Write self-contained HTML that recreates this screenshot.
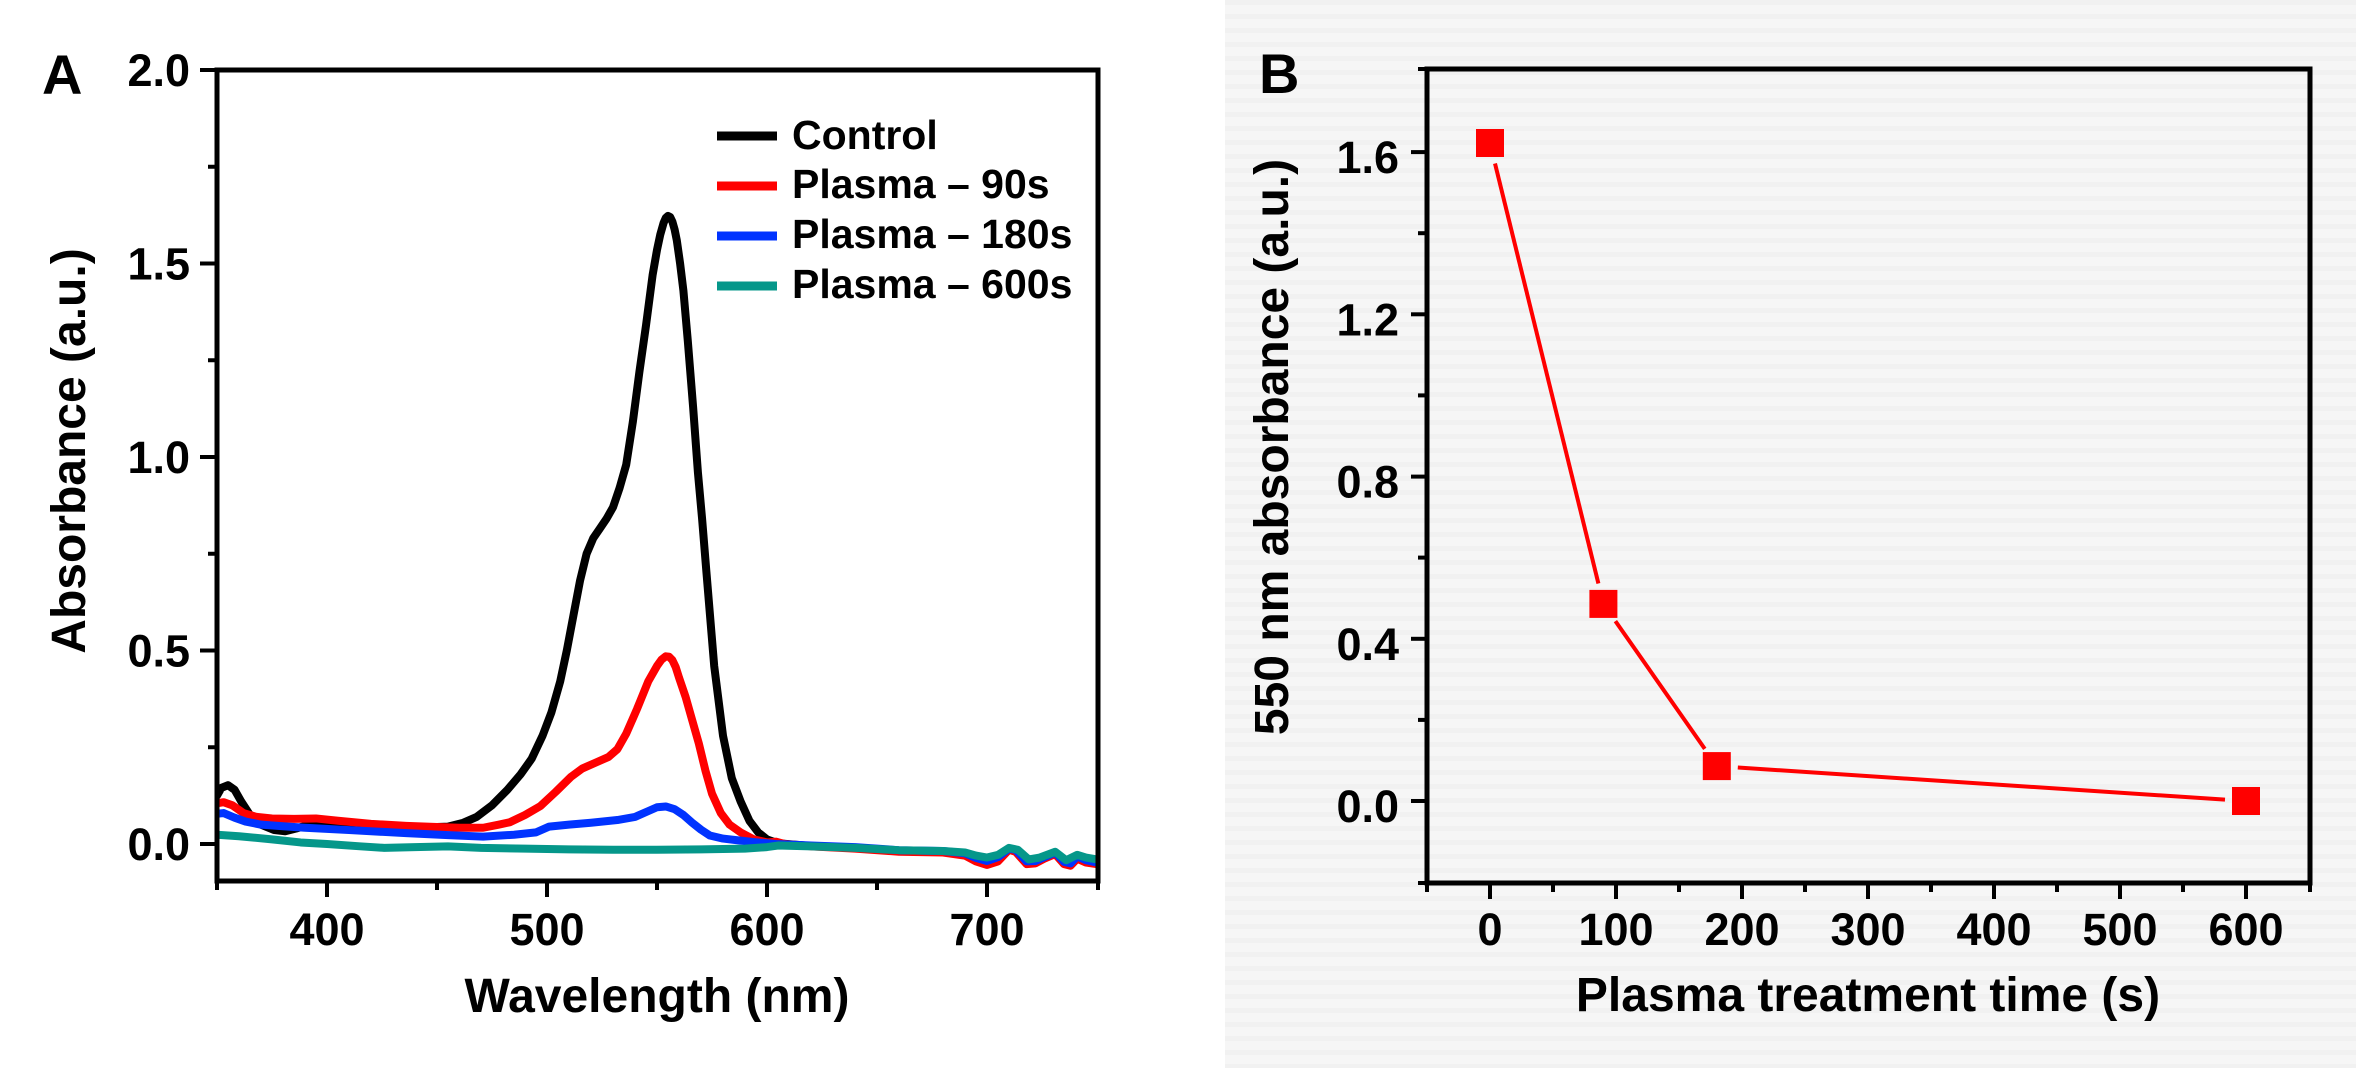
<!DOCTYPE html>
<html>
<head>
<meta charset="utf-8">
<style>
html,body{margin:0;padding:0;background:#fff;}
svg{display:block;}
text{font-family:"Liberation Sans",Arial,sans-serif;font-weight:bold;fill:#000;}
</style>
</head>
<body>
<svg width="2356" height="1068" viewBox="0 0 2356 1068" xmlns="http://www.w3.org/2000/svg">
<defs>
<pattern id="stripes" width="8" height="14" patternUnits="userSpaceOnUse">
<rect width="8" height="14" fill="#f6f6f6"/>
<rect y="0" width="8" height="5" fill="#f1f1f1"/>
</pattern>
<clipPath id="clipA"><rect x="217" y="70" width="881" height="811"/></clipPath>
</defs>
<rect x="0" y="0" width="2356" height="1068" fill="#ffffff"/>
<rect x="1225" y="0" width="1131" height="1068" fill="url(#stripes)"/>

<!-- ================= PANEL A ================= -->
<text x="42" y="94" font-size="56">A</text>

<g clip-path="url(#clipA)">
<g transform="matrix(2.2 0 0 -387 -553 844)" fill="none" stroke-linejoin="round" stroke-linecap="round">
<polyline vector-effect="non-scaling-stroke" stroke="#000000" stroke-width="8" points="
350,0.125 352,0.145 355,0.152 358,0.14 361,0.11 365,0.075 370,0.05 376,0.036 381,0.033 386,0.04 392,0.05 400,0.052 420,0.046 440,0.042 455,0.045 462,0.055 468,0.07 475,0.10 482,0.14 488,0.18 493,0.22 498,0.28 502,0.34 506,0.42 509,0.50 512,0.59 515,0.68 518,0.75 521,0.79 524,0.815 527,0.84 530,0.87 533,0.92 536,0.98 539,1.09 542,1.22 545,1.34 548,1.47 550,1.535 551.5,1.575 553,1.605 554,1.618 555,1.623 556,1.62 557,1.608 558,1.588 559,1.56 560.5,1.50 562,1.43 564,1.30 566.4,1.13 568.6,0.96 570.5,0.84 572.5,0.70 576,0.46 580,0.28 584,0.17 588,0.11 592,0.06 596,0.03 600,0.012 605,0.002 620,-0.005 640,-0.01 660,-0.018 680,-0.02 690,-0.025 695,-0.038 700,-0.048 705,-0.038 710,-0.012 713,-0.015 718,-0.048 722,-0.047 726,-0.035 731,-0.022 735,-0.048 738,-0.052 741,-0.033 745,-0.042 750,-0.048"/>
<polyline vector-effect="non-scaling-stroke" stroke="#ff0000" stroke-width="8" points="
350,0.105 353,0.108 357,0.1 362,0.08 368,0.07 375,0.066 385,0.065 395,0.066 405,0.06 420,0.052 436,0.047 450,0.044 460,0.042 471,0.042 478,0.05 483,0.056 490,0.075 497,0.098 504,0.135 511,0.174 516,0.195 522,0.21 528,0.225 532,0.245 536,0.285 541,0.35 546,0.42 550,0.46 552,0.476 554,0.485 555.5,0.484 557,0.475 558.5,0.457 560,0.43 563,0.38 566,0.32 569,0.26 572,0.19 575,0.13 579,0.08 583,0.05 588,0.03 594,0.012 600,0.004 604,0.006 608,0.0 620,-0.006 640,-0.012 660,-0.02 680,-0.022 690,-0.03 695,-0.045 700,-0.054 705,-0.045 710,-0.015 713,-0.02 718,-0.052 722,-0.05 726,-0.038 731,-0.026 735,-0.052 738,-0.056 741,-0.038 745,-0.048 750,-0.052"/>
<polyline vector-effect="non-scaling-stroke" stroke="#0033ff" stroke-width="8" points="
350,0.078 353,0.08 358,0.068 363,0.058 370,0.05 380,0.046 390,0.042 410,0.036 436,0.028 455,0.023 471,0.019 485,0.024 495,0.03 501,0.045 510,0.05 520,0.055 532,0.062 540,0.07 546,0.085 550,0.095 554,0.097 558,0.09 562,0.075 566,0.055 570,0.037 574,0.022 580,0.014 586,0.01 594,0.005 604,0.0 620,-0.004 640,-0.008 660,-0.016 680,-0.018 690,-0.024 695,-0.036 700,-0.044 705,-0.034 710,-0.012 713,-0.015 718,-0.045 722,-0.044 726,-0.034 731,-0.022 735,-0.046 738,-0.05 741,-0.032 745,-0.042 750,-0.048"/>
<polyline vector-effect="non-scaling-stroke" stroke="#05978a" stroke-width="8" points="
350,0.024 360,0.02 375,0.012 388,0.004 400,0.0 415,-0.006 426,-0.01 440,-0.008 455,-0.006 470,-0.01 490,-0.012 510,-0.014 530,-0.015 550,-0.015 570,-0.014 590,-0.012 600,-0.008 605,-0.004 620,-0.006 640,-0.01 660,-0.016 680,-0.018 690,-0.022 695,-0.03 700,-0.035 705,-0.028 710,-0.01 714,-0.015 719,-0.04 724,-0.035 731,-0.02 736,-0.042 741,-0.028 745,-0.035 750,-0.04"/>
</g>
</g>

<!-- A frame -->
<rect x="217" y="70" width="881" height="811" fill="none" stroke="#000" stroke-width="5"/>
<g stroke="#000" stroke-width="4">
<line x1="200" y1="844" x2="217" y2="844"/>
<line x1="200" y1="650.5" x2="217" y2="650.5"/>
<line x1="200" y1="457" x2="217" y2="457"/>
<line x1="200" y1="263.5" x2="217" y2="263.5"/>
<line x1="200" y1="70" x2="217" y2="70"/>
<line x1="208" y1="747.25" x2="217" y2="747.25"/>
<line x1="208" y1="553.75" x2="217" y2="553.75"/>
<line x1="208" y1="360.25" x2="217" y2="360.25"/>
<line x1="208" y1="166.75" x2="217" y2="166.75"/>
<line x1="327" y1="881" x2="327" y2="897"/>
<line x1="547" y1="881" x2="547" y2="897"/>
<line x1="767" y1="881" x2="767" y2="897"/>
<line x1="987" y1="881" x2="987" y2="897"/>
<line x1="217" y1="881" x2="217" y2="890"/>
<line x1="437" y1="881" x2="437" y2="890"/>
<line x1="657" y1="881" x2="657" y2="890"/>
<line x1="877" y1="881" x2="877" y2="890"/>
<line x1="1098" y1="881" x2="1098" y2="890"/>
</g>
<g font-size="45" text-anchor="end">
<text x="190" y="860">0.0</text>
<text x="190" y="666.5">0.5</text>
<text x="190" y="473">1.0</text>
<text x="190" y="279.5">1.5</text>
<text x="190" y="86">2.0</text>
</g>
<g font-size="45" text-anchor="middle">
<text x="327" y="945">400</text>
<text x="547" y="945">500</text>
<text x="767" y="945">600</text>
<text x="987" y="945">700</text>
</g>
<text x="657" y="1012" font-size="48" text-anchor="middle">Wavelength (nm)</text>
<text transform="translate(85,451) rotate(-90)" font-size="48" text-anchor="middle">Absorbance (a.u.)</text>

<!-- legend -->
<g stroke-width="9">
<line x1="717" y1="136" x2="777" y2="136" stroke="#000"/>
<line x1="717" y1="186" x2="777" y2="186" stroke="#ff0000"/>
<line x1="717" y1="236" x2="777" y2="236" stroke="#0033ff"/>
<line x1="717" y1="286" x2="777" y2="286" stroke="#05978a"/>
</g>
<g font-size="41">
<text x="792" y="149">Control</text>
<text x="792" y="198">Plasma – 90s</text>
<text x="792" y="248">Plasma – 180s</text>
<text x="792" y="298">Plasma – 600s</text>
</g>

<!-- ================= PANEL B ================= -->
<text x="1259" y="93" font-size="56">B</text>
<rect x="1427" y="69" width="883" height="814" fill="none" stroke="#000" stroke-width="5"/>
<g stroke="#000" stroke-width="4">
<line x1="1411" y1="801" x2="1427" y2="801"/>
<line x1="1411" y1="638.8" x2="1427" y2="638.8"/>
<line x1="1411" y1="476.6" x2="1427" y2="476.6"/>
<line x1="1411" y1="314.3" x2="1427" y2="314.3"/>
<line x1="1411" y1="152.1" x2="1427" y2="152.1"/>
<line x1="1418" y1="883" x2="1427" y2="883"/>
<line x1="1418" y1="719.9" x2="1427" y2="719.9"/>
<line x1="1418" y1="557.6" x2="1427" y2="557.6"/>
<line x1="1418" y1="395.4" x2="1427" y2="395.4"/>
<line x1="1418" y1="233.2" x2="1427" y2="233.2"/>
<line x1="1418" y1="69" x2="1427" y2="69"/>
<line x1="1490" y1="883" x2="1490" y2="899"/>
<line x1="1616" y1="883" x2="1616" y2="899"/>
<line x1="1742" y1="883" x2="1742" y2="899"/>
<line x1="1868" y1="883" x2="1868" y2="899"/>
<line x1="1994" y1="883" x2="1994" y2="899"/>
<line x1="2120" y1="883" x2="2120" y2="899"/>
<line x1="2246" y1="883" x2="2246" y2="899"/>
<line x1="1427" y1="883" x2="1427" y2="892"/>
<line x1="1553" y1="883" x2="1553" y2="892"/>
<line x1="1679" y1="883" x2="1679" y2="892"/>
<line x1="1805" y1="883" x2="1805" y2="892"/>
<line x1="1931" y1="883" x2="1931" y2="892"/>
<line x1="2057" y1="883" x2="2057" y2="892"/>
<line x1="2183" y1="883" x2="2183" y2="892"/>
<line x1="2310" y1="883" x2="2310" y2="892"/>
</g>
<g font-size="45" text-anchor="end">
<text x="1399" y="822">0.0</text>
<text x="1399" y="660">0.4</text>
<text x="1399" y="497.6">0.8</text>
<text x="1399" y="335.3">1.2</text>
<text x="1399" y="173">1.6</text>
</g>
<g font-size="45" text-anchor="middle">
<text x="1490" y="945">0</text>
<text x="1616" y="945">100</text>
<text x="1742" y="945">200</text>
<text x="1868" y="945">300</text>
<text x="1994" y="945">400</text>
<text x="2120" y="945">500</text>
<text x="2246" y="945">600</text>
</g>
<text x="1868" y="1011" font-size="48" text-anchor="middle">Plasma treatment time (s)</text>
<text transform="translate(1288,447) rotate(-90)" font-size="48" text-anchor="middle">550 nm absorbance (a.u.)</text>

<g stroke="#ff0000" stroke-width="4" stroke-linecap="butt">
<line x1="1495" y1="163.5" x2="1598.4" y2="583.5"/>
<line x1="1615.4" y1="621.1" x2="1704.8" y2="748.9"/>
<line x1="1737.8" y1="767.5" x2="2225" y2="799.6"/>
</g>
<g fill="#ff0000">
<rect x="1476" y="129" width="28" height="28"/>
<rect x="1589.4" y="589.9" width="28" height="28"/>
<rect x="1702.8" y="752.1" width="28" height="28"/>
<rect x="2232" y="787" width="28" height="28"/>
</g>
</svg>
</body>
</html>
